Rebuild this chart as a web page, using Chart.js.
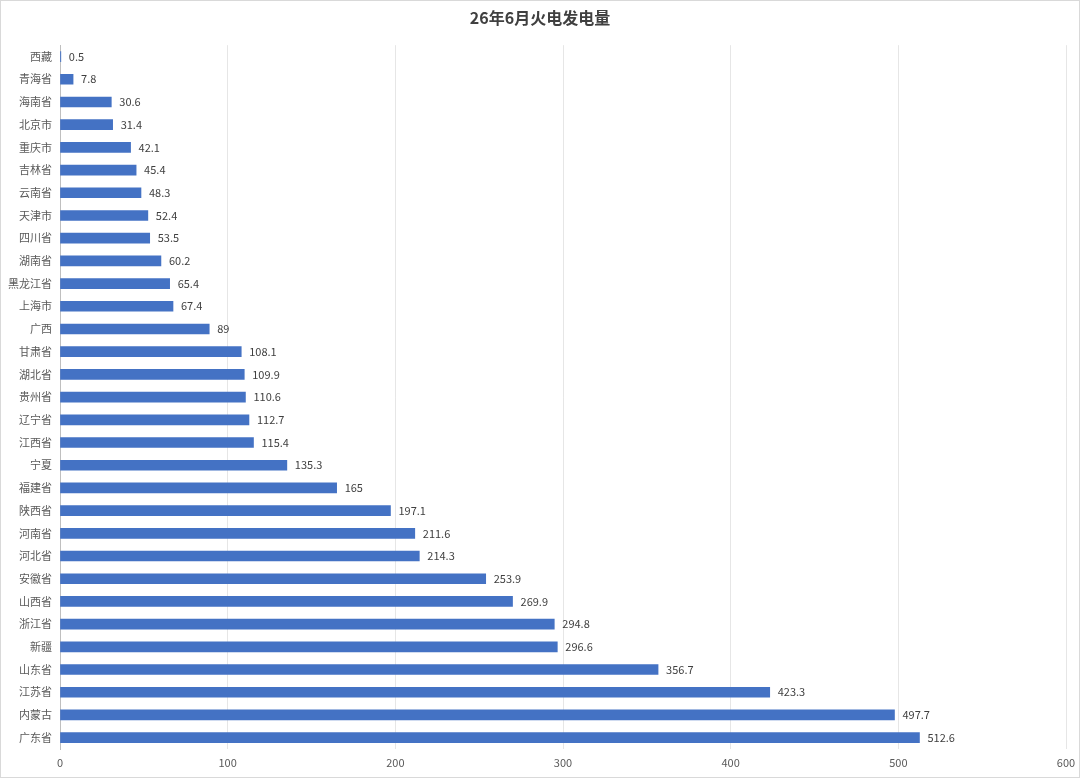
<!DOCTYPE html>
<html>
<head>
<meta charset="utf-8">
<script src="https://cdn.jsdelivr.net/npm/chart.js@4"></script>
<style>
    html, body { margin: 0; padding: 0; background: #ffffff; }
    #wrap { width: 1080px; height: 778px; position: relative; }
</style>
</head>
<body>
<div id="wrap"><canvas id="powerChart"></canvas></div>
<script>
// 26年6月 各省火电发电量
const chartTitle = '26年6月火电发电量';

const provinces = [
    '西藏', '青海省', '海南省', '北京市', '重庆市', '吉林省', '云南省', '天津市',
    '四川省', '湖南省', '黑龙江省', '上海市', '广西', '甘肃省', '湖北省', '贵州省',
    '辽宁省', '江西省', '宁夏', '福建省', '陕西省', '河南省', '河北省', '安徽省',
    '山西省', '浙江省', '新疆', '山东省', '江苏省', '内蒙古', '广东省'
];

const generation = [
    0.5, 7.8, 30.6, 31.4, 42.1, 45.4, 48.3, 52.4,
    53.5, 60.2, 65.4, 67.4, 89, 108.1, 109.9, 110.6,
    112.7, 115.4, 135.3, 165, 197.1, 211.6, 214.3, 253.9,
    269.9, 294.8, 296.6, 356.7, 423.3, 497.7, 512.6
];

const xTicks = [0, 100, 200, 300, 400, 500, 600];

const FONT = "'Noto Sans CJK SC', 'Noto Sans', sans-serif";
const TEXT_COLOR = '#595959';

/**
 * Value labels at the end of each bar
 */
const valueLabels = {
    id: 'valueLabels',
    afterDatasetsDraw(chart) {
        const ctx = chart.ctx;
        const meta = chart.getDatasetMeta(0);
        ctx.save();
        ctx.font = '11px ' + FONT;
        ctx.fillStyle = '#404040';
        ctx.textAlign = 'left';
        ctx.textBaseline = 'middle';
        meta.data.forEach((bar, i) => {
            ctx.fillText(String(generation[i]), bar.x + 8, bar.y);
        });
        ctx.restore();
    }
};

/**
 * Light frame round the whole chart
 */
const chartFrame = {
    id: 'chartFrame',
    beforeDraw(chart) {
        const ctx = chart.ctx;
        ctx.save();
        ctx.fillStyle = '#ffffff';
        ctx.fillRect(0, 0, chart.width, chart.height);
        ctx.strokeStyle = '#d9d9d9';
        ctx.lineWidth = 1;
        ctx.strokeRect(0.5, 0.5, chart.width - 1, chart.height - 1);
        ctx.restore();
    }
};

new Chart(document.getElementById('powerChart'), {
    type: 'bar',
    data: {
        labels: provinces,
        datasets: [{
            label: '火电发电量',
            data: generation,
            backgroundColor: '#4472c4',
            barThickness: 10,
        }]
    },
    options: {
        indexAxis: 'y',
        responsive: true,
        maintainAspectRatio: false,
        animation: false,
        layout: {
            padding: 0
        },
        plugins: {
            legend: { display: false },
            tooltip: { enabled: false },
            title: {
                display: true,
                text: chartTitle,
                color: '#404040',
                font: { family: FONT, size: 16, weight: 'bold' },
                padding: { top: 8, bottom: 18 }
            }
        },
        scales: {
            x: {
                min: 0,
                max: 600,
                afterBuildTicks(scale) {
                    scale.ticks = xTicks.map(v => ({ value: v }));
                },
                afterFit(scale) {
                    scale.height = 29;
                    scale.paddingRight = 14;
                    scale.paddingLeft = 0;
                },
                grid: {
                    color: '#e6e6e6',
                    drawTicks: false,
                },
                border: { display: false },
                ticks: {
                    color: TEXT_COLOR,
                    font: { family: FONT, size: 11 },
                    padding: 7,
                }
            },
            y: {
                afterFit(scale) {
                    scale.width = 60;
                },
                grid: {
                    display: false,
                    drawTicks: false,
                },
                border: { display: true, color: '#bfbfbf' },
                ticks: {
                    color: TEXT_COLOR,
                    font: { family: FONT, size: 11 },
                    padding: 8,
                    autoSkip: false,
                }
            }
        }
    },
    plugins: [chartFrame, valueLabels]
});
</script>
</body>
</html>
